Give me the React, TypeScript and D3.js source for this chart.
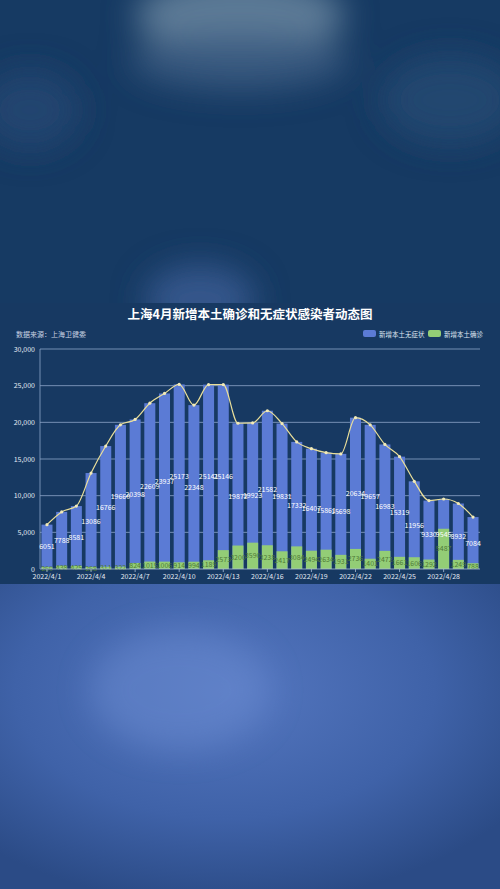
import { scaleBand, scaleLinear, line as d3line, curveMonotoneX } from "d3";

// 上海4月每日新增（来源：上海卫健委）
const dates = Array.from({ length: 30 }, (_, i) => `2022/4/${i + 1}`);
const asymptomatic = [
  6051, 7788, 8581, 13086, 16766, 19660, 20398, 22609, 23937, 25173,
  22348, 25141, 25146, 19872, 19923, 21582, 19831, 17332, 16407, 15861,
  15698, 20634, 19657, 16983, 15319, 11956, 9330, 9545, 8932, 7084,
];
const confirmed = [
  260, 438, 425, 268, 311, 322, 824, 1015, 1006, 914,
  994, 1189, 2573, 3200, 3590, 3238, 2417, 3084, 2494, 2634,
  1931, 2736, 1401, 2472, 1661, 1606, 1292, 5487, 1249, 788,
];
const yTicks = [0, 5000, 10000, 15000, 20000, 25000, 30000];
const legendNames = ["新增本土无症状", "新增本土确诊"];

const W = 500;
const H = 889;
const FONT = '"Noto Sans CJK SC", "Noto Sans", sans-serif';
const BLUE = "#5b7bd5";
const GREEN = "#93cd76";

export default function App() {
  const left = 40;
  const right = 480;
  const top = 349;
  const bottom = 569;

  const x = scaleBand<string>().domain(dates).range([left, right]).paddingInner(0.25).paddingOuter(0.1);
  const y = scaleLinear().domain([0, 30000]).range([bottom, top]);
  const cx = (i: number) => (x(dates[i]) ?? 0) + x.bandwidth() / 2;

  const line = d3line<number>()
    .x((_, i) => cx(i))
    .y((d) => y(d))
    .curve(curveMonotoneX);

  return (
    <div style={{ position: "fixed", left: 0, top: 0, width: W, height: H, overflow: "hidden" }}>
      <svg width={W} height={H} style={{ display: "block" }} fontFamily={FONT}>
        <defs>
          <radialGradient id="botGlow" cx="0.45" cy="0.35" r="0.7">
            <stop offset="0%" stopColor="#5577c0" />
            <stop offset="60%" stopColor="#3f62a8" />
            <stop offset="100%" stopColor="#2b4b86" />
          </radialGradient>
          <filter id="blur" x="-50%" y="-50%" width="200%" height="200%">
            <feGaussianBlur stdDeviation="16" />
          </filter>
        </defs>

        {/* 模糊背景（上） */}
        <rect x={0} y={0} width={W} height={303} fill="#163a63" />
        <g filter="url(#blur)">
          <ellipse cx={240} cy={15} rx={105} ry={40} fill="#6a86a0" opacity={0.85} />
          <ellipse cx={240} cy={60} rx={110} ry={30} fill="#3e5f85" opacity={0.8} />
          <ellipse cx={200} cy={300} rx={55} ry={35} fill="#34578b" />
          <ellipse cx={450} cy={100} rx={70} ry={45} fill="#24466f" />
          <ellipse cx={30} cy={110} rx={50} ry={40} fill="#204470" />
        </g>

        {/* 模糊背景（下） */}
        <rect x={0} y={584} width={W} height={H - 584} fill="url(#botGlow)" />
        <g filter="url(#blur)" opacity={0.5}>
          <ellipse cx={180} cy={690} rx={90} ry={60} fill="#6a8bd0" />
        </g>

        {/* 图表面板 */}
        <rect x={0} y={303} width={W} height={281} fill="#173962" />

        <text x={250} y={319} textAnchor="middle" fill="#ffffff" fontSize={12.5} fontWeight="bold">
          上海4月新增本土确诊和无症状感染者动态图
        </text>
        <text x={16} y={337} fill="#c9d3e3" fontSize={7}>
          数据来源：上海卫健委
        </text>

        {/* 图例 */}
        {legendNames.map((name, i) => {
          const lx = 363 + i * 65;
          return (
            <g key={name}>
              <rect x={lx} y={330} width={13} height={7} rx={2} fill={i === 0 ? BLUE : GREEN} />
              <text x={lx + 16} y={336.5} fill="#dfe6f0" fontSize={6.5}>
                {name}
              </text>
            </g>
          );
        })}

        {/* 网格线与 y 轴 */}
        {yTicks.map((t) => (
          <g key={t}>
            {t > 0 && (
              <line x1={left} x2={right} y1={y(t)} y2={y(t)} stroke="#8ea6c9" strokeWidth={0.8} />
            )}
            <text x={35} y={y(t) + 2.5} textAnchor="end" fill="#e3e9f2" fontSize={7}>
              {t.toLocaleString("en-US")}
            </text>
          </g>
        ))}
        <line x1={left} x2={left} y1={top} y2={bottom} stroke="#8ea6c9" strokeWidth={0.8} />

        {/* 柱子（重叠） */}
        {asymptomatic.map((v, i) => (
          <rect key={"a" + i} x={x(dates[i])} y={y(v)} width={x.bandwidth()} height={bottom - y(v)} fill={BLUE} />
        ))}
        {confirmed.map((v, i) => (
          <rect key={"c" + i} x={x(dates[i])} y={y(v)} width={x.bandwidth()} height={bottom - y(v)} fill={GREEN} />
        ))}

        {/* 数值标签 */}
        {asymptomatic.map((v, i) => (
          <text key={"al" + i} x={cx(i)} y={(y(v) + bottom) / 2 + 2.5} textAnchor="middle" fill="#ffffff" fontSize={7}>
            {v}
          </text>
        ))}
        {confirmed.map((v, i) => (
          <text key={"cl" + i} x={cx(i)} y={(y(v) + bottom) / 2 + 2.5} textAnchor="middle" fill="#4f7a36" fontSize={7}>
            {v}
          </text>
        ))}

        {/* 平滑折线 */}
        <path d={line(asymptomatic) ?? undefined} fill="none" stroke="#eadf9a" strokeWidth={1.2} />
        {asymptomatic.map((v, i) => (
          <circle key={"p" + i} cx={cx(i)} cy={y(v)} r={1.6} fill="#f2eab8" />
        ))}

        {/* x 轴 */}
        <line x1={left} x2={right} y1={bottom} y2={bottom} stroke="#a9bcd8" strokeWidth={0.8} />
        {dates.map((d, i) =>
          i % 3 === 0 ? (
            <g key={d}>
              <line x1={cx(i)} x2={cx(i)} y1={bottom} y2={bottom + 3} stroke="#a9bcd8" strokeWidth={0.8} />
              <text x={cx(i)} y={bottom + 10} textAnchor="middle" fill="#e3e9f2" fontSize={7}>
                {d}
              </text>
            </g>
          ) : null
        )}
      </svg>
    </div>
  );
}
